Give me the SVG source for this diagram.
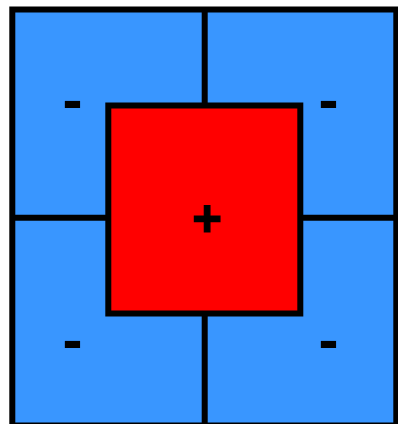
<svg xmlns="http://www.w3.org/2000/svg" width="398" height="424" viewBox="0 0 398 424">
<style>
.ln{stroke:#000;stroke-width:6}
.blue{fill:#3996ff}
.red{fill:#ff0000}
.sign{font-family:"Liberation Sans",Arial,sans-serif;font-weight:bold;fill:#000;text-anchor:middle}
.plus{stroke:#000;stroke-width:1.2}
</style>
<rect width="398" height="424" fill="#fff"/>
<g id="outer">
<rect x="12.3" y="9.5" width="384" height="416" class="ln blue"/>
</g>
<g id="connectors">
<line class="ln" x1="204.7" y1="9.5" x2="204.7" y2="425.5"/>
<line class="ln" x1="12.3" y1="217.7" x2="396.3" y2="217.7"/>
</g>
<g id="q1"><text class="sign" x="72.5" y="120" font-size="60">-</text></g>
<g id="q2"><text class="sign" x="328.5" y="120" font-size="60">-</text></g>
<g id="q3"><text class="sign" x="72.5" y="360" font-size="60">-</text></g>
<g id="q4"><text class="sign" x="328.5" y="360" font-size="60">-</text></g>
<g id="center">
<rect x="108.3" y="105.5" width="192" height="208" class="ln red"/>
<text class="sign plus" x="207.2" y="235.5" font-size="51">+</text>
</g>
</svg>
